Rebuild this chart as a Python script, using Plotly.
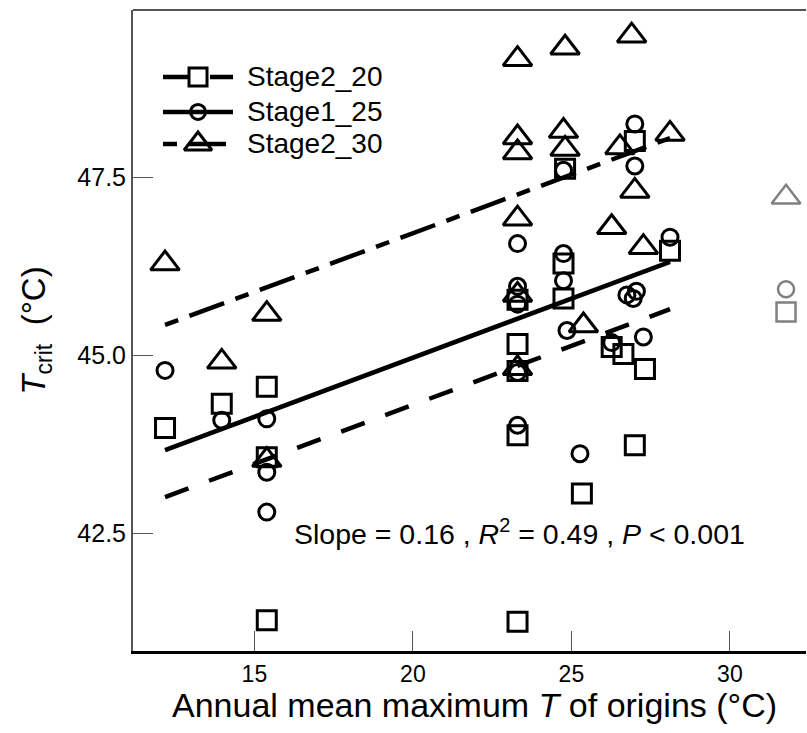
import plotly.graph_objects as go

# ---------------- data ----------------
stages = ["Stage2_20", "Stage1_25", "Stage2_30"]

s20_x = [12.18, 13.97, 15.39, 15.39, 15.39, 23.3, 23.3, 23.3, 23.3, 23.3,
         24.8, 24.75, 24.75, 25.33, 26.27, 26.64, 27.0, 27.32, 27.0, 28.11]
s20_y = [43.98, 44.32, 44.56, 43.57, 41.28, 45.78, 45.16, 44.78, 43.88, 41.26,
         47.62, 46.29, 45.80, 43.06, 45.12, 45.02, 43.74, 44.81, 48.01, 46.47]

s25_x = [12.18, 13.97, 15.39, 15.39, 15.39, 23.3, 23.3, 23.3, 23.3, 23.3,
         24.75, 24.75, 24.75, 24.86, 25.27, 26.27, 26.75, 26.95, 27.05, 27.0,
         27.0, 27.27, 28.11]
s25_y = [44.79, 44.09, 44.11, 43.36, 42.80, 46.57, 45.97, 45.72, 44.76, 44.02,
         47.60, 46.43, 46.05, 45.35, 43.62, 45.18, 45.85, 45.80, 45.90, 48.25,
         47.66, 45.26, 46.66]

s30_x = [12.18, 13.97, 15.39, 15.39, 23.3, 23.3, 23.3, 23.3, 23.3, 23.3,
         24.8, 24.75, 24.8, 25.38, 26.27, 26.9, 26.53, 27.0, 27.27, 28.11]
s30_y = [46.29, 44.91, 45.58, 43.53, 49.16, 48.06, 47.85, 46.92, 45.85, 44.82,
         49.32, 48.15, 47.90, 45.42, 46.80, 49.49, 47.92, 47.31, 46.52, 48.11]

# grey reference points (no fitted line)
grey_x = [31.77, 31.77, 31.77]
grey_y = [45.61, 45.93, 47.22]   # square, circle, triangle

# fitted regression lines
fit_slope = [0.1657, 0.1660, 0.1647]
fit_intercept = [40.992, 41.648, 43.422]
fit_xrange = [12.18, 28.11]

x_ticks = [15, 20, 25, 30]
y_ticks = [42.5, 45.0, 47.5]
y_ticklabels = ["42.5", "45.0", "47.5"]

# ---------------- style ----------------
FONT = "Arial, Liberation Sans, sans-serif"
symbols = ["square-open", "circle-open", "triangle-up-open"]
sizes = [19, 16, 25]
dashes = ["25px,22px", "solid", "14px,12px,37px,12px"]
pts_x = [s20_x, s25_x, s30_x]
pts_y = [s20_y, s25_y, s30_y]

fig = go.Figure()

for i, name in enumerate(stages):
    xs = fit_xrange
    ys = [fit_intercept[i] + fit_slope[i] * v for v in xs]
    fig.add_trace(go.Scatter(x=xs, y=ys, mode="lines",
                             line=dict(color="black", width=4.5, dash=dashes[i]),
                             showlegend=False, hoverinfo="skip"))

for i, name in enumerate(stages):
    fig.add_trace(go.Scatter(x=pts_x[i], y=pts_y[i], mode="markers",
                             marker=dict(symbol=symbols[i], size=sizes[i], color="black",
                                         line=dict(width=3, color="black")),
                             showlegend=False, name=name))

# grey points
for j in range(3):
    fig.add_trace(go.Scatter(x=[grey_x[j]], y=[grey_y[j]], mode="markers",
                             marker=dict(symbol=symbols[j], size=sizes[j], color="#808080",
                                         line=dict(width=2.5, color="#808080")),
                             showlegend=False, cliponaxis=False))

# custom legend (drawn on an overlay axis in paper-like units)
leg_x0, leg_x1, leg_xm, leg_xt = 0.0446, 0.1486, 0.0966, 0.1664
leg_rows = [0.8955, 0.841, 0.791]
for i, name in enumerate(stages):
    fig.add_trace(go.Scatter(x=[leg_x0, leg_x1], y=[leg_rows[i]] * 2, mode="lines",
                             xaxis="x2", yaxis="y2", showlegend=False, hoverinfo="skip",
                             line=dict(color="black", width=4.5, dash=dashes[i])))
    fig.add_trace(go.Scatter(x=[leg_xm], y=[leg_rows[i]], mode="markers",
                             xaxis="x2", yaxis="y2", showlegend=False, hoverinfo="skip",
                             marker=dict(symbol=symbols[i], size=sizes[i] - 1, color="black",
                                         line=dict(width=3, color="black"))))
    fig.add_annotation(x=leg_xt, y=leg_rows[i], xref="x2", yref="y2", text=name,
                       showarrow=False, xanchor="left", yanchor="middle",
                       font=dict(family=FONT, size=28, color="black"))

fig.add_annotation(x=23.35, y=42.52, xref="x", yref="y",
                   text="Slope = 0.16 , <i>R</i><sup>2</sup> = 0.49 , <i>P</i> < 0.001",
                   showarrow=False, font=dict(family=FONT, size=28.5, color="black"))

# x-axis title
fig.add_annotation(x=0.507, y=-0.0835, xref="paper", yref="paper",
                   text="Annual mean maximum <i>T</i> of origins (°C)",
                   showarrow=False, xanchor="center", yanchor="middle",
                   font=dict(family=FONT, size=34, color="black"))

fig.update_layout(
    width=807, height=733,
    margin=dict(l=133, r=1, t=10, b=82, pad=0),
    plot_bgcolor="white", paper_bgcolor="white",
    font=dict(family=FONT, color="black"),
    showlegend=False,
    xaxis=dict(range=[11.17, 32.40], tickvals=x_ticks, ticks="inside", ticklen=20,
               tickwidth=1, tickcolor="#555", showgrid=False, zeroline=False,
               showline=True, linecolor="black", linewidth=3, mirror=False,
               tickfont=dict(size=23, family=FONT)),
    yaxis=dict(range=[40.85, 49.85], tickvals=y_ticks, ticktext=y_ticklabels,
               ticks="inside", ticklen=20, tickwidth=1, tickcolor="#555",
               showgrid=False, zeroline=False, showline=True, linecolor="#555",
               linewidth=2, tickfont=dict(size=25, family=FONT),
               title=dict(text="<i>T</i><sub>crit</sub>  (°C)",
                          font=dict(size=33, family=FONT), standoff=22)),
    xaxis2=dict(domain=[0, 1], range=[0, 1], overlaying="x", visible=False,
                fixedrange=True),
    yaxis2=dict(domain=[0, 1], range=[0, 1], overlaying="y", visible=False,
                fixedrange=True),
)

# top border line
fig.add_shape(type="line", xref="paper", yref="paper", x0=0, x1=1, y0=1, y1=1,
              line=dict(color="#555", width=2))

fig.write_html("out.html")
